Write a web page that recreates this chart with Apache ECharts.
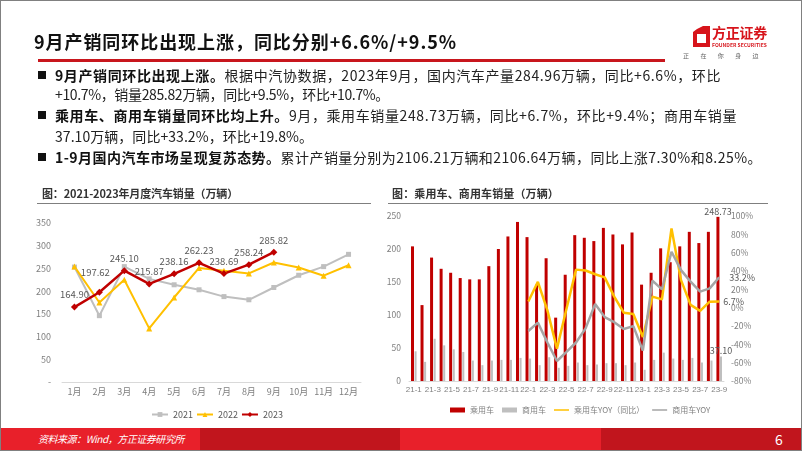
<!DOCTYPE html>
<html>
<head>
<meta charset="utf-8">
<script src="https://cdn.jsdelivr.net/npm/echarts@6/dist/echarts.min.js"></script>
<style>
html, body { margin: 0; padding: 0; }
body { width: 802px; height: 451px; position: relative; overflow: hidden; background: #fff;
       font-family: "Noto Sans CJK SC", "Noto Sans", sans-serif; }
#chart { position: absolute; left: 0; top: 0; width: 802px; height: 451px; }
.t { position: absolute; white-space: nowrap; }
.title { left: 34px; top: 31px; font-size: 18px; line-height: 20px; font-weight: 700; color: #111; }
.redline { position: absolute; left: 38px; top: 59px; width: 627px; height: 3px; background: #C8161D; }
.bl { font-size: 14px; line-height: 20px; color: #222; left: 55px; }
.bl b { font-weight: 700; color: #111; }
.sq { position: absolute; left: 38px; width: 8px; height: 8px; background: #111; }
.ctitle { font-size: 11px; line-height: 14px; font-weight: 700; color: #333; }
.cline { position: absolute; height: 1px; background: #7f7f7f; }
.foot { position: absolute; top: 428px; height: 23px; }
.frame { position: absolute; left: 0; top: 0; width: 800px; height: 449px; border: 1px solid #808080; pointer-events: none; }
</style>
</head>
<body>
<div id="chart"></div>

<div class="t title" data-w="423">9月产销同环比出现上涨，同比分别+6.6%/+9.5%</div>
<div class="redline"></div>

<svg style="position:absolute;left:693px;top:26px" width="17" height="21" viewBox="0 0 17 21">
  <path fill="#D7141B" fill-rule="evenodd" d="M4 3 L10 0 L17 0 L17 21 L0 21 L0 6 Z M4 8 L13 8 L13 17 L4 17 Z"/>
</svg>
<div class="t" style="left:712px;top:24px;font-size:14px;line-height:16px;font-weight:700;color:#D7141B" data-w="55">方正证券</div>
<div class="t" style="left:712px;top:42px;font-size:5px;line-height:6px;font-weight:700;color:#D7141B" data-w="55">FOUNDER SECURITIES</div>
<div class="t" style="left:683px;top:52px;font-size:6px;line-height:8px;color:#666" data-w="87">正在你身边</div>

<div class="sq" style="top:71px"></div>
<div class="t bl" style="top:65px" data-w="666"><b>9月产销同环比出现上涨。</b>根据中汽协数据，2023年9月，国内汽车产量284.96万辆，同比+6.6%，环比</div>
<div class="t bl" style="top:84px" data-w="334">+10.7%，销量285.82万辆，同比+9.5%，环比+10.7%。</div>
<div class="sq" style="top:111px"></div>
<div class="t bl" style="top:105px" data-w="682"><b>乘用车、商用车销量同环比均上升。</b>9月，乘用车销量248.73万辆，同比+6.7%，环比+9.4%；商用车销量</div>
<div class="t bl" style="top:126px" data-w="258">37.10万辆，同比+33.2%，环比+19.8%。</div>
<div class="sq" style="top:153px"></div>
<div class="t bl" style="top:147px" data-w="707"><b>1-9月国内汽车市场呈现复苏态势。</b>累计产销量分别为2106.21万辆和2106.64万辆，同比上涨7.30%和8.25%。</div>

<div class="t ctitle" style="left:42px;top:186px" data-w="196">图：2021-2023年月度汽车销量（万辆）</div>
<div class="cline" style="left:37px;top:203px;width:334px"></div>
<div class="t ctitle" style="left:392px;top:186px" data-w="167">图：乘用车、商用车销量（万辆）</div>
<div class="cline" style="left:388px;top:203px;width:380px"></div>

<div class="foot" style="left:0;width:200px;background:#E8202A"></div>
<div class="foot" style="left:200px;width:200px;background:#C1151D"></div>
<div class="foot" style="left:400px;width:201px;background:#E8202A"></div>
<div class="foot" style="left:601px;width:201px;background:#C1151D"></div>
<div class="t" style="left:38px;top:432px;font-size:10px;line-height:14px;color:#fff;font-style:italic" data-w="146">资料来源：Wind，方正证券研究所</div>
<div class="t" style="left:775px;top:430px;font-size:14px;line-height:18px;color:#fff">6</div>
<div class="frame"></div>

<script>
// 左图：2021-2023年月度汽车销量（万辆）
const months = ['1月', '2月', '3月', '4月', '5月', '6月', '7月', '8月', '9月', '10月', '11月', '12月'];
const sales2021 = [253, 146, 254, 227, 214, 203, 188, 181, 208, 235, 254, 281];
const sales2022 = [254, 175, 225, 118, 186, 251, 245, 239, 263, 252, 234, 257];
const sales2023 = [164.90, 197.62, 245.10, 215.87, 238.16, 262.23, 238.69, 258.24, 285.82];

// 右图：乘用车、商用车销量（万辆）及同比
const periods = ['21-1', '21-2', '21-3', '21-4', '21-5', '21-6', '21-7', '21-8', '21-9', '21-10', '21-11', '21-12',
                 '22-1', '22-2', '22-3', '22-4', '22-5', '22-6', '22-7', '22-8', '22-9', '22-10', '22-11', '22-12',
                 '23-1', '23-2', '23-3', '23-4', '23-5', '23-6', '23-7', '23-8', '23-9'];
const passenger = [204, 115, 187, 170, 164, 156, 154, 154, 174, 200, 219, 241,
                   218, 146, 186, 96, 161, 221, 217, 212, 232, 222, 207, 225,
                   146, 164, 201, 180, 204, 226, 209, 226, 248.73];
const commercial = [45, 29, 64, 54, 48, 44, 31, 24, 31, 32, 32, 35,
                    34, 24, 36, 20, 23, 28, 24, 25, 27, 27, 24, 28,
                    17, 32, 43, 34, 32, 35, 28, 31, 37.10];
const passengerYoy = [null, null, null, null, null, null, null, null, null, null, null, null,
                      6.7, 28.2, -3, -44.7, -1.2, 41.5, 40.5, 36.5, 33, 12, -5.5, -7,
                      -32, 12, 9, 86.5, 30, 3, -3.5, 6.5, 6.7];
const commercialYoy = [null, null, null, null, null, null, null, null, null, null, null, null,
                       -25.4, -16.3, -38, -58.2, -48.3, -38, -22.6, 4, -10.3, -15.8, -23.2, -20.1,
                       -46.9, 29.5, 20, 61, 41, 28.4, 17.5, 21, 33.2];

const labelGray = '#595959';
const axisGray = '#7f7f7f';
const narrow = '"Liberation Sans Narrow", "Liberation Sans", sans-serif';
const last = periods.length - 1;
const lineIcon = 'path://M0 0H30V3H0Z';

const chart = echarts.init(document.getElementById('chart'));
chart.setOption({
    animation: false,
    textStyle: { fontFamily: '"Noto Sans CJK SC", "Noto Sans", sans-serif' },
    grid: [
        { left: 62, top: 223, width: 299, height: 159 },
        { left: 409, top: 216, width: 315, height: 165 }
    ],
    legend: [
        {
            data: ['2021', '2022', '2023'],
            left: 146, top: 405,
            itemWidth: 16, itemHeight: 6, itemGap: 3,
            textStyle: { fontSize: 9, color: labelGray }
        },
        {
            data: [
                { name: '乘用车', icon: 'rect' },
                { name: '商用车', icon: 'rect' },
                { name: '乘用车YOY（同比）', icon: lineIcon },
                { name: '商用车YOY', icon: lineIcon }
            ],
            left: 445, top: 401,
            itemWidth: 15, itemHeight: 5, itemGap: 8,
            textStyle: { fontSize: 8, color: axisGray }
        }
    ],
    xAxis: [
        {
            type: 'category', gridIndex: 0, data: months,
            axisLine: { lineStyle: { color: '#D9D9D9' } },
            axisTick: { show: false },
            axisLabel: { color: axisGray, fontSize: 9, margin: 5 }
        },
        {
            type: 'category', gridIndex: 1, data: periods,
            axisLine: { lineStyle: { color: '#D9D9D9' } },
            axisTick: { show: false },
            axisLabel: { color: axisGray, fontSize: 8, fontFamily: narrow, margin: 5, interval: 1 }
        }
    ],
    yAxis: [
        {
            type: 'value', gridIndex: 0, min: 0, max: 350, interval: 50,
            splitLine: { show: false }, axisLine: { show: false }, axisTick: { show: false },
            axisLabel: { color: axisGray, fontSize: 9, margin: 11, formatter: v => (v === 0 ? '-' : v) }
        },
        {
            type: 'value', gridIndex: 1, min: 0, max: 250, interval: 50, position: 'left',
            splitLine: { show: false }, axisLine: { show: false }, axisTick: { show: false },
            axisLabel: { color: axisGray, fontSize: 8.5, margin: 8 }
        },
        {
            type: 'value', gridIndex: 1, min: -80, max: 100, interval: 20, position: 'right',
            splitLine: { show: false }, axisLine: { show: false }, axisTick: { show: false },
            axisLabel: { color: axisGray, fontSize: 8.5, margin: 7, formatter: '{value}%' }
        }
    ],
    series: [
        {
            name: '2021', type: 'line', xAxisIndex: 0, yAxisIndex: 0, data: sales2021,
            symbol: 'rect', symbolSize: 5,
            lineStyle: { color: '#BFBFBF', width: 2 }, itemStyle: { color: '#BFBFBF' }
        },
        {
            name: '2022', type: 'line', xAxisIndex: 0, yAxisIndex: 0, data: sales2022,
            symbol: 'triangle', symbolSize: 6,
            lineStyle: { color: '#FFC000', width: 2 }, itemStyle: { color: '#FFC000' }
        },
        {
            name: '2023', type: 'line', xAxisIndex: 0, yAxisIndex: 0,
            // the Feb label sits higher and to the left on the slide
            data: sales2023.map((v, i) => (i === 1 ? { value: v, label: { offset: [-4, -8] } } : v)),
            symbol: 'diamond', symbolSize: 7,
            lineStyle: { color: '#C00000', width: 2.5 }, itemStyle: { color: '#C00000' },
            label: {
                show: true, position: 'top', distance: 4,
                color: labelGray, fontSize: 9.5,
                formatter: p => p.value.toFixed(2)
            }
        },
        {
            name: '乘用车', type: 'bar', xAxisIndex: 1, yAxisIndex: 1, data: passenger,
            barWidth: 3, barGap: '20%',
            itemStyle: { color: '#C00000' },
            label: {
                show: true, position: 'top', distance: 1, color: labelGray, fontSize: 9,
                formatter: p => (p.dataIndex === last ? p.value.toFixed(2) : '')
            }
        },
        {
            name: '商用车', type: 'bar', xAxisIndex: 1, yAxisIndex: 1, data: commercial,
            barWidth: 2,
            itemStyle: { color: '#BFBFBF' },
            label: {
                show: true, position: 'top', distance: 1, color: labelGray, fontSize: 9,
                formatter: p => (p.dataIndex === last ? p.value.toFixed(2) : '')
            }
        },
        {
            name: '乘用车YOY（同比）', type: 'line', xAxisIndex: 1, yAxisIndex: 2, data: passengerYoy,
            symbol: 'none',
            lineStyle: { color: '#FFC000', width: 2.5 }, itemStyle: { color: '#FFC000' },
            endLabel: { show: true, distance: 4, color: labelGray, fontSize: 9, formatter: p => p.value + '%' }
        },
        {
            name: '商用车YOY', type: 'line', xAxisIndex: 1, yAxisIndex: 2, data: commercialYoy,
            symbol: 'none',
            lineStyle: { color: '#A5A5A5', width: 2.5 }, itemStyle: { color: '#A5A5A5' },
            endLabel: { show: true, distance: 10, color: labelGray, fontSize: 9, formatter: p => p.value + '%' }
        }
    ]
});

// stretch text lines to the widths measured on the slide
function fit() {
    document.querySelectorAll('[data-w]').forEach(el => {
        el.style.letterSpacing = '0px';
        const w = el.getBoundingClientRect().width;
        const n = el.textContent.length;
        el.style.letterSpacing = ((+el.dataset.w - w) / n) + 'px';
    });
}
fit();
if (document.fonts) document.fonts.ready.then(fit);
</script>
</body>
</html>
